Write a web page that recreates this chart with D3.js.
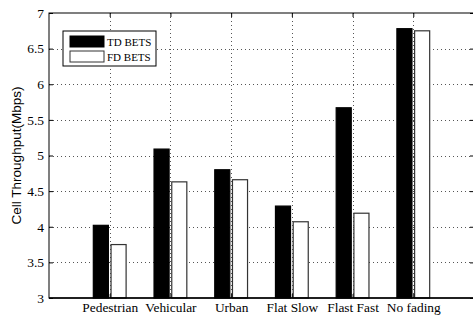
<!DOCTYPE html>
<html>
<head>
<meta charset="utf-8">
<script src="https://cdn.jsdelivr.net/npm/d3@7"></script>
<style>
  body { margin: 0; background: #fff; }
  svg { display: block; }
</style>
</head>
<body>
<div id="chart"></div>
<script>
// Data
const categories = ["Pedestrian", "Vehicular", "Urban", "Flat Slow", "Flast Fast", "No fading"];
const seriesNames = ["TD BETS", "FD BETS"];
const tdValues = [4.02, 5.09, 4.80, 4.29, 5.67, 6.78];
const fdValues = [3.75, 4.63, 4.66, 4.07, 4.19, 6.75];
const yTicks = [3, 3.5, 4, 4.5, 5, 5.5, 6, 6.5, 7];

const width = 473, height = 316;
const plot = { left: 49, right: 474, top: 13, bottom: 298 };

const svg = d3.select("#chart").append("svg")
  .attr("width", width)
  .attr("height", height);

// x in category units: categories sit at 1..6, axis runs 0..7
const x = d3.scaleLinear().domain([0, 7]).range([plot.left, plot.right]);
const y = d3.scaleLinear().domain([3, 7]).range([plot.bottom, plot.top]);

const groupW = x(1) - x(0);
const xSub = d3.scaleBand()
  .domain(seriesNames)
  .range([-0.27 * groupW, 0.27 * groupW])
  .paddingInner(0.15);

const serif = "'Liberation Serif', 'Times New Roman', serif";

// grid (dotted)
const grid = svg.append("g").attr("stroke", "#555").attr("stroke-width", 1)
  .attr("stroke-dasharray", "1,3");
grid.selectAll("line.h")
  .data(yTicks.filter(d => d > 3 && d < 7))
  .join("line")
  .attr("x1", plot.left).attr("x2", plot.right)
  .attr("y1", d => Math.round(y(d)) + 0.5).attr("y2", d => Math.round(y(d)) + 0.5);
grid.selectAll("line.v")
  .data(categories)
  .join("line")
  .attr("x1", (d, i) => Math.round(x(i + 1)) + 0.5).attr("x2", (d, i) => Math.round(x(i + 1)) + 0.5)
  .attr("y1", plot.top).attr("y2", plot.bottom);

// bars
const rows = categories.map((c, i) => ({ c, i, vals: [tdValues[i], fdValues[i]] }));
const groups = svg.append("g").selectAll("g")
  .data(rows)
  .join("g")
  .attr("transform", d => `translate(${x(d.i + 1)},0)`);

groups.selectAll("rect")
  .data(d => d.vals.map((v, k) => ({ s: seriesNames[k], v })))
  .join("rect")
  .attr("x", d => xSub(d.s))
  .attr("width", xSub.bandwidth())
  .attr("y", d => y(d.v))
  .attr("height", d => y(3) - y(d.v))
  .attr("fill", d => d.s === "TD BETS" ? "#000" : "#fff")
  .attr("stroke", d => d.s === "TD BETS" ? "#000" : "#333")
  .attr("stroke-width", 1.2);

// baseline
svg.append("line")
  .attr("x1", plot.left).attr("x2", plot.right)
  .attr("y1", y(3)).attr("y2", y(3))
  .attr("stroke", "#000").attr("stroke-width", 1.5);

// axes box
svg.append("rect")
  .attr("x", plot.left).attr("y", plot.top)
  .attr("width", plot.right - plot.left).attr("height", plot.bottom - plot.top)
  .attr("fill", "none").attr("stroke", "#000").attr("stroke-width", 1);

// y axis (left) with inward ticks
const yAxis = d3.axisLeft(y).tickValues(yTicks).tickSize(-4).tickPadding(5)
  .tickFormat(d3.format("~g"));
const gy = svg.append("g").attr("transform", `translate(${plot.left},0)`).call(yAxis);
gy.select(".domain").remove();
gy.selectAll("text").attr("font-family", serif).attr("font-size", 13.5).attr("fill", "#000");

// right ticks
const gyr = svg.append("g").attr("transform", `translate(${plot.right},0)`)
  .call(d3.axisRight(y).tickValues(yTicks).tickSize(-4).tickFormat(""));
gyr.select(".domain").remove();

// x axis (bottom) with category labels
const xAxis = d3.axisBottom(x).tickValues(d3.range(1, 7)).tickSize(-4).tickPadding(4)
  .tickFormat(d => categories[d - 1]);
const gx = svg.append("g").attr("transform", `translate(0,${plot.bottom})`).call(xAxis);
gx.select(".domain").remove();
gx.selectAll("text").attr("font-family", serif).attr("font-size", 13.4).attr("fill", "#000");

// top ticks
const gxt = svg.append("g").attr("transform", `translate(0,${plot.top})`)
  .call(d3.axisTop(x).tickValues(d3.range(1, 7)).tickSize(-4).tickFormat(""));
gxt.select(".domain").remove();

// y title
svg.append("text")
  .attr("transform", `translate(21,${(plot.top + plot.bottom) / 2}) rotate(-90)`)
  .attr("text-anchor", "middle")
  .attr("font-family", "'Liberation Sans', Arial, sans-serif")
  .attr("font-size", 13.5)
  .text("Cell Throughput(Mbps)");

// legend
const legend = svg.append("g").attr("transform", "translate(63,31)");
legend.append("rect")
  .attr("width", 93).attr("height", 35)
  .attr("fill", "#fff").attr("stroke", "#000").attr("stroke-width", 1);
seriesNames.forEach((s, k) => {
  const ly = 5 + k * 15;
  legend.append("rect")
    .attr("x", 7).attr("y", ly)
    .attr("width", 34).attr("height", 11)
    .attr("fill", k === 0 ? "#000" : "#fff")
    .attr("stroke", k === 0 ? "#000" : "#333")
    .attr("stroke-width", 1);
  legend.append("text")
    .attr("x", 44).attr("y", ly + 10)
    .attr("font-family", serif).attr("font-size", 11)
    .text(s);
});
</script>
</body>
</html>
